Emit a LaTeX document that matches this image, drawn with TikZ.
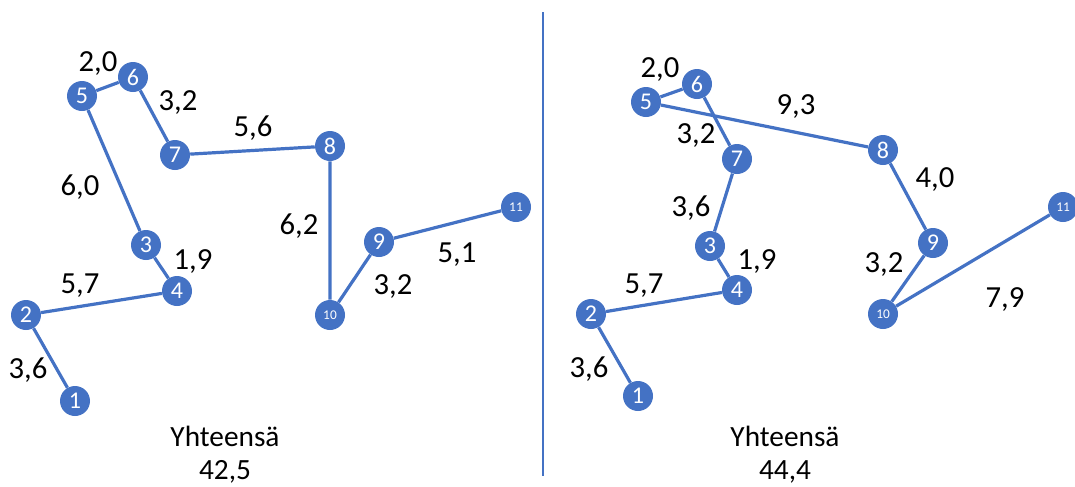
\documentclass[tikz,border=0pt]{standalone}
\usepackage{fontspec}
\setmainfont{Carlito}
\definecolor{nodeblue}{HTML}{4472C4}
\tikzset{
  x=0.75pt, y=-0.75pt,
  pt/.style={circle, fill=nodeblue, draw=none, minimum size=22.5pt, inner sep=0pt, text=white, font=\fontsize{18}{18}\selectfont},
  ptsmall/.style={pt, font=\fontsize{10}{10}\selectfont},
  edge/.style={draw=nodeblue, line width=2.4pt},
  lbl/.style={font=\fontsize{23}{23}\selectfont, text=black, inner sep=0pt},
  total/.style={font=\fontsize{22}{25}\selectfont, align=center, inner sep=0pt},
}
\begin{document}
\begin{tikzpicture}
\useasboundingbox (0,0) rectangle (1075,486);
\coordinate (dtop) at (543,12);
\coordinate (dbot) at (543,476);
\draw[nodeblue, line width=0.8pt] (dtop) -- (dbot);

% ---- left panel
\node[pt] (a1) at (75,401) {1};
\node[pt] (a2) at (26,315) {2};
\node[pt] (a3) at (146,245) {3};
\node[pt] (a4) at (177,291) {4};
\node[pt] (a5) at (82,96) {5};
\node[pt] (a6) at (133,77) {6};
\node[pt] (a7) at (175,155) {7};
\node[pt] (a8) at (330,146) {8};
\node[pt] (a9) at (379,242) {9};
\node[ptsmall] (a10) at (330,315) {10};
\node[ptsmall] (a11) at (516,207) {11};
\path[edge] (a1) -- (a2) -- (a4) -- (a3) -- (a5) -- (a6) -- (a7) -- (a8) -- (a10) -- (a9) -- (a11);

\node[lbl] (la1) at (98,64) {2,0};
\node[lbl] (la2) at (178,103) {3,2};
\node[lbl] (la3) at (253,128) {5,6};
\node[lbl] (la4) at (80,187) {6,0};
\node[lbl] (la5) at (299,226) {6,2};
\node[lbl] (la6) at (193,262) {1,9};
\node[lbl] (la7) at (80,286) {5,7};
\node[lbl] (la8) at (28,370) {3,6};
\node[lbl] (la9) at (393,287) {3,2};
\node[lbl] (la10) at (457,255) {5,1};
\node[total] (ta) at (225,455) {Yhteensä\\42,5};

% ---- right panel
\node[pt] (b1) at (638,396) {1};
\node[pt] (b2) at (591,314) {2};
\node[pt] (b3) at (710,246) {3};
\node[pt] (b4) at (737,290) {4};
\node[pt] (b5) at (646,102) {5};
\node[pt] (b6) at (697,84) {6};
\node[pt] (b7) at (737,159) {7};
\node[pt] (b8) at (883,150) {8};
\node[pt] (b9) at (933,243) {9};
\node[ptsmall] (b10) at (883,314) {10};
\node[ptsmall] (b11) at (1063,207) {11};
\path[edge] (b1) -- (b2) -- (b4) -- (b3) -- (b7) -- (b6) -- (b5) -- (b8) -- (b9) -- (b10) -- (b11);

\node[lbl] (lb1) at (660,70) {2,0};
\node[lbl] (lb2) at (796,107) {9,3};
\node[lbl] (lb3) at (696,136) {3,2};
\node[lbl] (lb4) at (691,208) {3,6};
\node[lbl] (lb5) at (935,180) {4,0};
\node[lbl] (lb6) at (757,262) {1,9};
\node[lbl] (lb7) at (644,286) {5,7};
\node[lbl] (lb8) at (589,369) {3,6};
\node[lbl] (lb9) at (884,265) {3,2};
\node[lbl] (lb10) at (1005,300) {7,9};
\node[total] (tb) at (785,455) {Yhteensä\\44,4};
\end{tikzpicture}
\end{document}
